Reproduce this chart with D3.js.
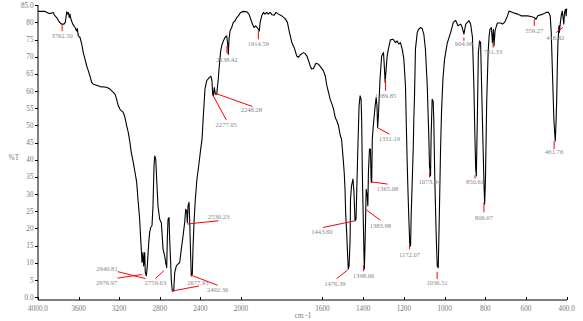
<!DOCTYPE html>
<html><head><meta charset="utf-8">
<script src="https://cdn.jsdelivr.net/npm/d3@7/dist/d3.min.js"></script>
<style>
html,body{margin:0;padding:0;background:#fff;}
svg{display:block;}
text{font-family:"Liberation Serif","Times New Roman",serif;}
</style></head>
<body><svg id="c" width="583" height="321"></svg>
<script>
// ---- data ----
const wavenumbers = [4000,3931,3889,3865,3849,3839,3816,3790,3767,3744,3731,3717,3707,3701,3692,3685,3675,3658,3635,3619,3613,3603,3586,3569,3554,3537,3520,3504,3488,3471,3455,3422,3389,3323,3291,3258,3241,3225,3209,3192,3160,3143,3126,3110,3094,3081,3061,3044,3028,3015,3000,2988,2975,2966,2959,2949,2943,2933,2923,2909,2900,2890,2877,2867,2857,2850,2840,2831,2818,2801,2785,2778,2768,2752,2742,2732,2726,2719,2709,2703,2693,2687,2677,2663,2653,2637,2621,2604,2588,2571,2555,2545,2535,2529,2522,2512,2505,2496,2490,2480,2473,2463,2450,2434,2417,2397,2384,2371,2355,2338,2312,2296,2286,2279,2273,2263,2253,2239,2234,2224,2214,2200,2190,2174,2158,2141,2131,2125,2118,2108,2092,2076,2059,2042,2027,2003,1989,1972,1961,1952,1944,1936,1928,1920,1910,1906,1898,1890,1882,1873,1866,1857,1847,1837,1828,1816,1800,1783,1772,1762,1750,1739,1726,1718,1709,1701,1693,1685,1676,1668,1660,1653,1644,1632,1619,1607,1595,1586,1578,1570,1562,1553,1545,1537,1529,1521,1512,1506,1498,1493,1489,1486,1481,1476,1473,1469,1464,1462,1457,1450,1445,1440,1435,1432,1427,1420,1415,1410,1407,1404,1399,1395,1394,1390,1385,1380,1377,1374,1369,1364,1361,1358,1355,1350,1341,1336,1332,1329,1325,1317,1309,1300,1296,1292,1287,1282,1276,1266,1253,1241,1233,1225,1217,1208,1200,1192,1187,1184,1181,1176,1171,1167,1164,1159,1154,1151,1148,1143,1134,1127,1118,1110,1102,1094,1085,1077,1074,1069,1066,1061,1056,1053,1048,1041,1036,1031,1026,1020,1015,1008,1000,987,970,957,946,934,921,913,905,896,880,872,863,856,851,847,844,839,834,828,823,818,811,806,803,799,793,786,781,777,770,765,760,757,752,745,740,724,715,704,691,683,666,641,624,592,576,559,551,542,517,501,489,481,476,471,466,463,459,456,453,449,446,443,438,436,431,427,422,417,414,411,406,403,400];
const transmittance = [83.2,83.2,82.6,82.7,82.9,82.1,81.4,80.1,79.5,79.5,80.0,83.1,82.4,82.9,81.4,82.4,80.9,79.5,78.5,77.5,78.2,76.1,75.6,73.7,71.2,69.3,67.3,65.9,64.4,62.5,62.0,61.7,61.3,61.1,60.6,59.6,59.1,57.6,55.7,54.7,53.8,52.3,49.9,47.9,45.0,42.1,39.2,36.3,33.5,28.5,23.3,16.9,10.1,13.0,9.1,13.0,7.2,6.2,9.1,15.9,18.8,20.3,20.8,26.6,38.2,41.1,40.2,34.4,26.6,22.7,21.7,18.8,14.0,12.0,10.1,8.6,16.9,22.7,23.2,16.9,10.1,5.2,1.8,1.8,7.2,9.1,9.6,10.1,14.0,17.8,21.7,25.6,25.1,21.7,26.6,27.6,21.7,12.0,6.2,6.7,14.0,21.7,28.5,34.4,38.2,43.1,46.0,52.8,60.6,63.0,64.0,64.3,63.0,59.1,58.6,61.0,59.1,59.1,60.6,63.5,67.3,71.7,73.2,74.6,75.6,76.1,73.7,70.7,75.1,77.5,78.5,80.0,80.4,81.4,81.9,82.9,83.2,83.1,82.4,80.9,79.5,78.5,79.0,78.5,77.5,80.0,81.9,82.9,82.4,82.9,82.4,82.9,82.2,82.1,82.9,82.4,81.9,81.1,80.0,77.1,74.1,72.7,70.2,69.8,70.5,70.9,71.2,70.9,70.2,68.8,67.3,66.4,66.6,68.1,67.8,66.9,65.9,64.4,61.5,59.6,57.6,56.2,54.7,52.3,51.3,49.9,47.0,46.0,40.2,36.3,31.4,24.7,18.8,12.0,8.2,9.1,16.9,28.5,32.4,34.4,30.5,22.2,22.7,29.5,41.1,55.7,58.6,57.6,50.9,36.3,21.7,10.1,8.2,16.9,31.4,29.5,26.6,36.3,43.1,43.1,34.4,33.4,46.0,49.9,55.7,58.1,55.7,49.4,52.8,63.5,70.2,71.2,67.3,62.5,66.4,70.2,72.2,74.9,75.1,74.1,74.6,73.7,74.1,72.2,69.3,61.5,47.9,40.2,33.4,23.7,15.4,14.9,23.7,33.4,43.1,51.8,57.6,72.2,77.1,78.0,78.5,78.2,76.6,72.2,61.5,46.0,38.2,35.3,47.0,57.6,57.1,51.8,34.4,17.8,9.1,8.6,22.7,42.1,53.8,63.5,69.3,73.9,77.1,80.0,80.6,79.0,79.5,78.5,76.6,79.5,80.5,79.5,75.7,61.5,47.0,37.3,35.3,51.8,71.2,74.6,74.1,61.5,44.0,32.4,27.1,34.4,56.8,71.2,76.1,78.0,78.5,74.1,78.0,73.2,77.5,79.0,79.8,79.8,79.5,80.1,81.9,83.3,82.9,82.4,81.9,81.9,81.7,81.4,80.9,81.9,82.4,82.9,82.9,81.9,77.1,67.3,57.6,51.8,47.9,45.5,49.9,57.6,67.3,74.1,79.0,77.1,80.0,81.9,83.3,80.9,79.5,82.9,83.8,81.9,84.0];

const xTickValues = [4000,3600,3200,2800,2400,2000,1600,1400,1200,1000,800,600,400];
const xTickLabels = ["4000.0","3600","3200","2800","2400","2000","1600","1400","1200","1000","800","600","400.0"];
const yTickValues = [0,5,10,15,20,25,30,35,40,45,50,55,60,65,70,75,80,85];
const yTickLabels = ["0.0","5","10","15","20","25","30","35","40","45","50","55","60","65","70","75","80","85.0"];

// peak annotations: label value and transmittance at the leader tip
const peakValues = ["3762.50","2138.42","1914.59","2248.28","2277.05","2530.23","2759.63","2677.93","2492.36","2940.81","2976.97","1443.60","1476.39","1398.06","1383.98","1365.08","1331.19","1289.85","1172.07","1073.84","1036.51","904.98","761.33","559.27","418.42","461.76","850.61","806.67"];
const peakTipT = [79.5,73.2,77.5,59.3,58.8,21.3,7.7,1.8,6.4,5.4,6.6,22.2,7.9,9.3,25.4,33.6,49.4,63.5,15.4,36.3,7.4,75.6,74.1,80.9,78.5,45.5,35.5,27.6];
// leader tip x (px correction) / leader end offset (px) / text offset from leader end (px)
const tipDx =   [0,0,0,0,0,0,0,0,0,0,0,0,0,0,0,0,0,0,0,0,0,0,0,0,0,0,0,0];
const leaderEnd = [[0,7],[0,7.6],[0,8.3],[36.6,13],[13.4,24.7],[31.4,-3.3],[-8.4,7.6],[26.7,-5],[26.6,10],[-27.7,-7],[-24.4,3.6],[-31.3,6.6],[-11,8.6],[0,6],[14,10.3],[17.3,2.3],[12.3,6.7],[0,11.7],[0,5],[0,5],[0,7.3],[0,3.4],[0,5],[0,6.7],[-6.7,5],[0,8.3],[0,3.3],[0,10]];
const textOff = [[0,5],[0,6],[0,4.5],[-1,3],[0,4.5],[0,-4],[0,4],[-1,-3.4],[0,4.7],[-10.8,-3.3],[-10.8,4.7],[-1,4.4],[-1.7,4.7],[0,4],[0,5],[0,5],[0,4],[0,4.5],[0,5],[0,3.7],[0,4],[0,2.6],[0,3.7],[0,4.3],[-1,5],[0,2.7],[0,3],[0,5]];

// ---- chart ----
const svg = d3.select("#c");
const x = d3.scaleLinear().domain([4000,2000,400]).range([38,241,566.7]);
const y = d3.scaleLinear().domain([0,85]).range([297.2,5.2]);
const axisY = 300;

// axes
svg.append("line").attr("x1",38).attr("x2",567).attr("y1",axisY).attr("y2",axisY)
  .attr("stroke","#000").attr("stroke-width",1);
svg.append("line").attr("x1",38).attr("x2",38).attr("y1",5).attr("y2",axisY)
  .attr("stroke","#000").attr("stroke-width",1);

const xa = svg.append("g");
xTickValues.forEach((v,i)=>{
  const px = Math.round(x(v))+0.5;
  xa.append("line").attr("x1",px).attr("x2",px).attr("y1",axisY).attr("y2",axisY-3)
    .attr("stroke","#000").attr("stroke-width",1);
  xa.append("text").attr("x",x(v)).attr("y",axisY+8).attr("dy","0.35em")
    .attr("text-anchor","middle").attr("font-size",7.2).attr("fill","#777").text(xTickLabels[i]);
});
const ya = svg.append("g");
yTickValues.forEach((v,i)=>{
  const py = Math.round(y(v))+0.5;
  ya.append("line").attr("x1",35).attr("x2",38).attr("y1",py).attr("y2",py)
    .attr("stroke","#000").attr("stroke-width",1);
  ya.append("text").attr("x",33.5).attr("y",y(v)).attr("dy","0.35em")
    .attr("text-anchor","end").attr("font-size",7.2).attr("fill","#777").text(yTickLabels[i]);
});
svg.append("text").attr("x",14).attr("y",157).attr("dy","0.35em").attr("text-anchor","middle")
  .attr("font-size",7.2).attr("fill","#777").text("%T");
svg.append("text").attr("x",303).attr("y",315.5).attr("dy","0.35em").attr("text-anchor","middle")
  .attr("font-size",7.2).attr("fill","#777").text("cm -1");

// spectrum
const pts = wavenumbers.map((w,i)=>[w,transmittance[i]]);
const line = d3.line().x(d=>x(d[0])).y(d=>y(d[1]));
svg.append("path").datum(pts).attr("d",line).attr("fill","none")
  .attr("stroke","#000").attr("stroke-width",1.1).attr("stroke-linejoin","round");

// peak labels
const ann = svg.append("g");
peakValues.forEach((lab,i)=>{
  const tx = x(+lab)+tipDx[i], ty = y(peakTipT[i]);
  const ex = tx+leaderEnd[i][0], ey = ty+leaderEnd[i][1];
  ann.append("line").attr("x1",tx).attr("y1",ty).attr("x2",ex).attr("y2",ey)
    .attr("stroke","#ff0000").attr("stroke-width",1);
  ann.append("text").attr("x",ex+textOff[i][0]).attr("y",ey+textOff[i][1]).attr("dy","0.35em")
    .attr("text-anchor","middle").attr("font-size",6.6).attr("fill","#888").text(lab);
});
</script></body></html>
